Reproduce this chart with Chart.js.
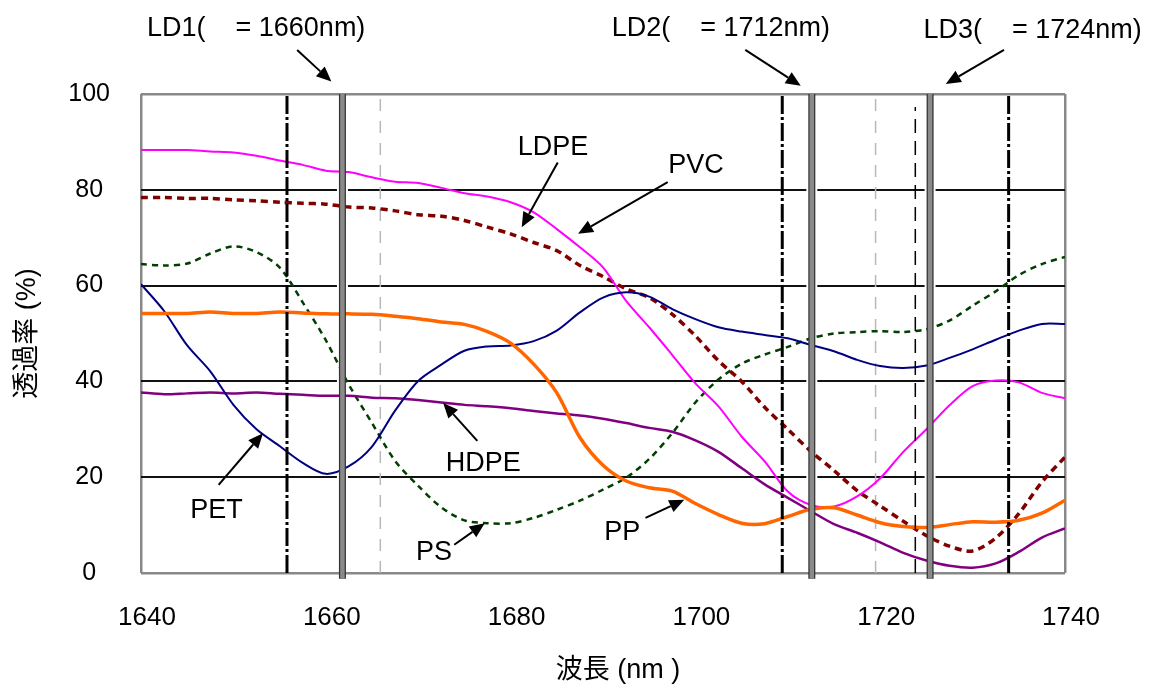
<!DOCTYPE html>
<html>
<head>
<meta charset="utf-8">
<script src="https://cdn.jsdelivr.net/npm/chart.js@4.4.1/dist/chart.umd.min.js"></script>
<style>
  html, body { margin: 0; padding: 0; background: #fff; }
  #wrap { width: 1152px; height: 684px; position: relative; }
</style>
</head>
<body>
<div id="wrap"><canvas id="spectra"></canvas></div>
<script>
// wavelength (nm) and transmittance (%)
const wavelengths = [1640, 1642.5, 1645, 1647.5, 1650, 1652.5, 1655, 1657.5, 1660, 1662.5, 1665, 1667.5, 1670, 1672.5,
  1675, 1677.5, 1680, 1682.5, 1685, 1687.5, 1690, 1692.5, 1695, 1697.5, 1700, 1702.5, 1705, 1707.5, 1710, 1712.5,
  1715, 1717.5, 1720, 1722.5, 1725, 1727.5, 1730, 1732.5, 1735, 1737.5, 1740];

const ldpe = [88.3, 88.3, 88.3, 88.0, 87.8, 87.1, 86.1, 85.2, 84.0, 83.7, 82.6, 81.7, 81.4, 80.4,
  79.3, 78.6, 77.4, 75.3, 71.8, 68.0, 63.8, 56.8, 51.3, 45.5, 39.6, 34.8, 28.5, 23.3, 17.0, 14.2,
  13.9, 16.0, 19.8, 25.3, 30.0, 35.0, 39.0, 40.2, 39.8, 37.6, 36.5];
const pvc = [78.4, 78.4, 78.2, 78.2, 77.9, 77.7, 77.4, 77.2, 77.0, 76.4, 76.2, 75.6, 74.8, 74.5,
  73.6, 72.2, 70.8, 69.0, 67.3, 64.2, 61.9, 59.3, 57.5, 54.0, 49.5, 44.3, 40.0, 34.6, 30.0, 25.4,
  21.4, 17.2, 14.0, 10.8, 7.8, 5.6, 4.6, 7.3, 12.4, 19.0, 24.2];
const ps = [64.5, 64.2, 64.6, 66.7, 68.2, 67.0, 63.8, 56.5, 48.6, 39.3, 31.3, 23.4, 18.2, 13.7,
  11.0, 10.4, 10.4, 11.5, 13.2, 15.1, 17.4, 19.9, 23.8, 29.2, 35.6, 40.4, 43.7, 45.6, 47.2, 49.0,
  50.0, 50.3, 50.5, 50.3, 50.9, 52.7, 55.8, 58.8, 62.2, 64.5, 66.0];
const pet = [60.3, 54.7, 47.5, 42.1, 35.1, 30.0, 26.5, 23.0, 20.7, 22.3, 26.4, 33.9, 40.1, 43.5,
  46.4, 47.3, 47.5, 48.4, 50.6, 54.4, 57.5, 58.6, 57.7, 55.1, 53.0, 51.3, 50.4, 49.7, 49.0, 47.6,
  46.3, 44.5, 43.2, 42.8, 43.3, 44.9, 46.7, 48.7, 50.6, 52.0, 52.0];
const hdpe = [37.7, 37.3, 37.5, 37.7, 37.5, 37.7, 37.4, 37.2, 37.0, 37.0, 36.6, 36.5, 36.1, 35.6,
  35.1, 34.8, 34.4, 33.8, 33.3, 32.9, 32.2, 31.3, 30.3, 29.5, 27.7, 25.3, 21.9, 18.5, 15.7, 12.9,
  10.2, 8.4, 6.4, 4.2, 2.6, 1.5, 1.1, 2.0, 4.4, 7.4, 9.3];
const pp = [54.2, 54.2, 54.2, 54.5, 54.2, 54.2, 54.5, 54.3, 54.1, 54.1, 54.0, 53.6, 53.1, 52.4,
  51.9, 50.4, 48.0, 43.6, 37.6, 28.3, 22.5, 19.2, 17.8, 17.1, 14.5, 12.2, 10.4, 10.3, 11.8, 13.3,
  13.6, 12.1, 10.5, 9.7, 9.5, 10.1, 10.7, 10.6, 11.0, 12.5, 15.2];

// vertical marker lines (nm)
const ldLines = [1661.8, 1712.6, 1725.4];
const dashDotLines = [1655.8, 1709.4, 1733.9];
const greyDashLines = [1665.9, 1719.5];
const blackDashLines = [1723.8];

// text notes and arrows, in data units
const noteTexts = ["LD1(    = 1660nm)", "LD2(    = 1712nm)", "LD3(    = 1724nm)", "LDPE", "PVC", "PET", "HDPE", "PS", "PP"];
const noteX = [1640.65, 1690.94, 1724.68, 1680.77, 1697.07, 1645.34, 1672.98, 1669.76, 1690.14];
const noteY = [113.6, 113.6, 113.2, 88.8, 85.0, 13.0, 22.9, 4.3, 8.5];
const arrowTail = [[1656.9, 109.2], [1705.4, 109.2], [1733.4, 109.2], [1685.1, 85.7], [1697.0, 81.6],
  [1648.4, 18.4], [1676.4, 27.6], [1673.9, 5.9], [1694.6, 11.5]];
const arrowTip = [[1660.6, 102.6], [1711.4, 101.7], [1727.1, 102.1], [1681.2, 72.2], [1687.3, 70.8],
  [1653.2, 29.2], [1672.7, 35.5], [1677.2, 10.4], [1698.8, 15.3]];

const latin = '"Liberation Sans", Arial, sans-serif';
const cjk = '"Liberation Sans", "Noto Sans CJK JP", sans-serif';

Chart.defaults.font.family = latin;
Chart.defaults.color = "#000";

function series(values) {
  return values.map((v, i) => ({ x: wavelengths[i], y: v }));
}

function vLines(xs, y0, y1) {
  return xs.flatMap((x) => [{ x: x, y: y0 }, { x: x, y: y1 }, { x: x, y: null }]);
}

function markerSet(data, color, width, dash, clip) {
  return {
    data: data,
    borderColor: color,
    borderWidth: width,
    borderDash: dash,
    pointRadius: 0,
    tension: 0,
    spanGaps: false,
    clip: clip,
  };
}

function curveSet(values, color, width, dash) {
  return {
    data: series(values),
    borderColor: color,
    borderWidth: width,
    borderDash: dash,
    pointRadius: 0,
    tension: 0.3,
    fill: false,
  };
}

const notesPlugin = {
  id: "notes",
  afterDraw(chart) {
    const { ctx } = chart;
    const xs = chart.scales.x;
    const ys = chart.scales.y;
    ctx.save();
    ctx.fillStyle = "#000";
    ctx.strokeStyle = "#000";
    ctx.font = "27px " + latin;
    ctx.textBaseline = "middle";
    ctx.textAlign = "left";
    noteTexts.forEach((t, i) => {
      ctx.fillText(t, xs.getPixelForValue(noteX[i]), ys.getPixelForValue(noteY[i]));
    });
    arrowTail.forEach((p, i) => {
      const x0 = xs.getPixelForValue(p[0]);
      const y0 = ys.getPixelForValue(p[1]);
      const x1 = xs.getPixelForValue(arrowTip[i][0]);
      const y1 = ys.getPixelForValue(arrowTip[i][1]);
      const a = Math.atan2(y1 - y0, x1 - x0);
      const head = 15;
      const half = 6.5;
      const bx = x1 - head * Math.cos(a);
      const by = y1 - head * Math.sin(a);
      ctx.lineWidth = 2;
      ctx.beginPath();
      ctx.moveTo(x0, y0);
      ctx.lineTo(bx, by);
      ctx.stroke();
      ctx.beginPath();
      ctx.moveTo(x1, y1);
      ctx.lineTo(bx - half * Math.sin(a), by + half * Math.cos(a));
      ctx.lineTo(bx + half * Math.sin(a), by - half * Math.cos(a));
      ctx.closePath();
      ctx.fill();
    });
    ctx.restore();
  },
};

const isEdge = (v) => v === 1640 || v === 1740 || v === 0 || v === 100;

new Chart(document.querySelector("#spectra"), {
  type: "line",
  data: {
    datasets: [
      // first dataset is drawn on top
      markerSet(vLines(ldLines, -1.2, 100), "#8a8a8a", 4.5, [], false),
      markerSet(vLines(ldLines, -1.2, 100), "#333", 7, [], false),
      markerSet(vLines(dashDotLines, 0, 100), "#000", 3, [18, 3, 3, 3], false),
      markerSet(vLines(blackDashLines, 0, 97.3), "#000", 1.5, [14, 8], false),
      curveSet(pp, "#ff6600", 3.5, []),
      curveSet(pet, "#000080", 2, []),
      curveSet(ldpe, "#ff00ff", 2, []),
      curveSet(hdpe, "#800080", 2.5, []),
      curveSet(pvc, "#800000", 3.5, [7, 5]),
      curveSet(ps, "#003f00", 2.5, [6, 5]),
      markerSet(vLines(greyDashLines, 0, 100), "#b8b8b8", 1.5, [12, 10], false),
      markerSet(vLines(ldLines, 0.6, 99.4), "#fff", 11, [], false),
    ],
  },
  options: {
    responsive: true,
    maintainAspectRatio: false,
    animation: false,
    devicePixelRatio: 1,
    layout: { padding: { top: 94, right: 87, left: 0, bottom: 0 } },
    plugins: {
      legend: { display: false },
      tooltip: { enabled: false },
    },
    scales: {
      x: {
        type: "linear",
        min: 1640,
        max: 1740,
        afterFit: (s) => {
          s.height = 111;
        },
        ticks: {
          stepSize: 20,
          padding: 29,
          labelOffset: 6,
          maxRotation: 0,
          font: { size: 26 },
          callback: (v) => String(v),
        },
        grid: {
          drawTicks: false,
          lineWidth: 2.5,
          color: (c) => (isEdge(c.tick.value) ? "#888" : "rgba(0,0,0,0)"),
        },
        border: { display: false },
        title: {
          display: true,
          text: "    波長 (nm )",
          font: { size: 27, family: cjk, lineHeight: 1 },
          padding: { top: 0, bottom: 0 },
        },
      },
      y: {
        min: 0,
        max: 100,
        afterFit: (s) => {
          s.width = 141;
        },
        ticks: { stepSize: 20, padding: 31, crossAlign: "center", font: { size: 25 } },
        grid: {
          drawTicks: false,
          lineWidth: (c) => (isEdge(c.tick.value) ? 2.5 : 2),
          color: (c) => (isEdge(c.tick.value) ? "#888" : "#111"),
        },
        border: { display: false },
        title: {
          display: true,
          text: "透過率 (%)",
          font: { size: 27, family: cjk },
          padding: { top: 11, bottom: 0 },
        },
      },
    },
  },
  plugins: [notesPlugin],
});
</script>
</body>
</html>
